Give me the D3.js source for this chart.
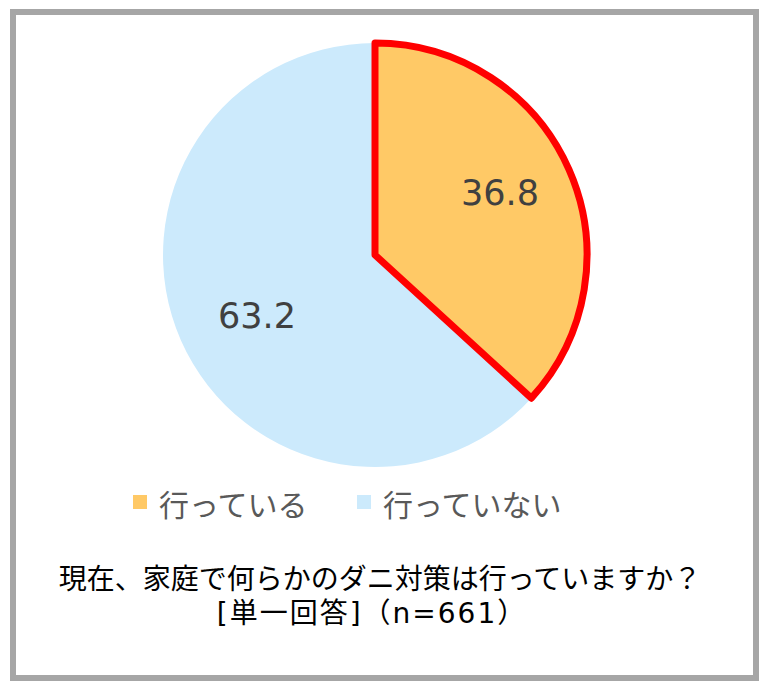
<!DOCTYPE html>
<html><head><meta charset="utf-8">
<script src="https://cdn.jsdelivr.net/npm/d3@7"></script>
<style>html,body{margin:0;padding:0;background:#fff;}</style>
</head><body>
<script>
const categories = ["行っている", "行っていない"];
const values = [36.8, 63.2];
const colors = ["#FFC966", "#CCEAFC"];
const titleLines = ["現在、家庭で何らかのダニ対策は行っていますか？", "[単一回答]（n=661）"];

const W = 769, H = 688;
const svg = d3.select("body").append("svg").attr("width", W).attr("height", H);
const font = "'Noto Sans CJK JP','Noto Sans',sans-serif";

svg.append("rect").attr("x", 13).attr("y", 12).attr("width", 743).attr("height", 666)
  .attr("fill", "#fff").attr("stroke", "#a6a6a6").attr("stroke-width", 6);

const cx = 375, cy = 255, r = 212;
const pie = d3.pie().sort(null).value(d => d)(values);
const arc = d3.arc().innerRadius(0).outerRadius(r);
const g = svg.append("g").attr("transform", `translate(${cx},${cy})`);

// draw the non-highlighted slice first, highlighted on top
[1, 0].forEach(i => {
  g.append("path").attr("d", arc(pie[i])).attr("fill", colors[i])
    .attr("stroke", i === 0 ? "#FF0000" : "none").attr("stroke-width", 7)
    .attr("stroke-linejoin", "round");
});

const labelPos = [[125, -62], [-118, 61]];
pie.forEach((p, i) => {
  g.append("text").attr("x", labelPos[i][0]).attr("y", labelPos[i][1])
    .attr("text-anchor", "middle").attr("dominant-baseline", "central")
    .attr("font-family", "'DejaVu Sans',Verdana,sans-serif").attr("font-size", 35)
    .attr("fill", "#404040").text(values[i].toFixed(1));
});

// legend
const legX = [133, 357];
categories.forEach((c, i) => {
  svg.append("rect").attr("x", legX[i]).attr("y", 495).attr("width", 14).attr("height", 14).attr("fill", colors[i]);
  svg.append("text").attr("x", legX[i] + 26).attr("y", 503).attr("dominant-baseline", "central")
    .attr("font-family", font).attr("font-size", 30).attr("fill", "#595959").text(c);
});

svg.append("text").attr("x", 380).attr("y", 577).attr("text-anchor", "middle")
  .attr("dominant-baseline", "central").attr("font-family", font).attr("font-size", 28)
  .attr("fill", "#000").text(titleLines[0]);
svg.append("text").attr("x", 372).attr("y", 613).attr("text-anchor", "middle")
  .attr("dominant-baseline", "central").attr("font-family", "'DejaVu Sans','Noto Sans CJK JP',sans-serif")
  .attr("font-size", 28).attr("letter-spacing", 2)
  .attr("fill", "#000").text(titleLines[1]);
</script>
</body></html>
